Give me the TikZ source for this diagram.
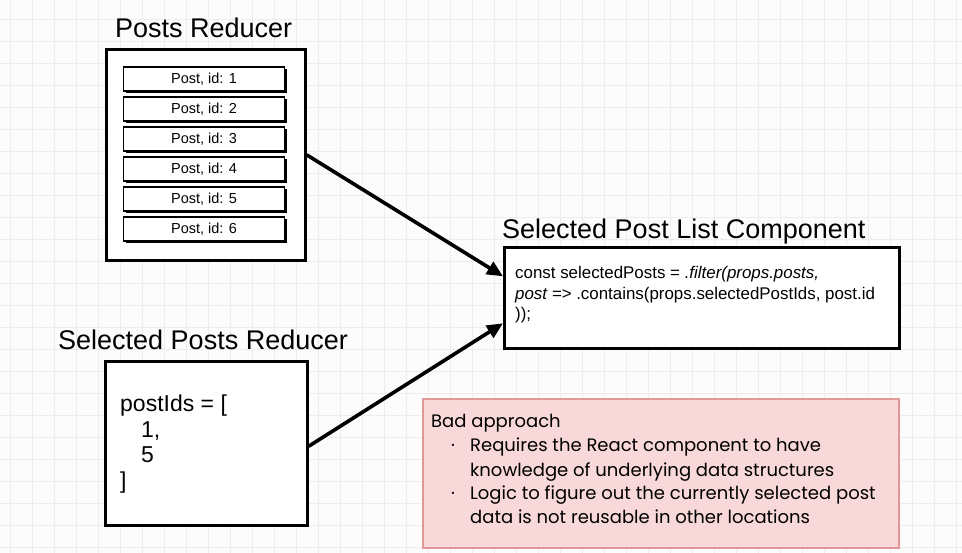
\documentclass[tikz,border=0pt]{standalone}
\usepackage{fontspec}
\setmainfont{Liberation Sans}
\newfontfamily\notefont{Poppins}
\usetikzlibrary{arrows.meta,shadows}
\definecolor{gridline}{RGB}{237,237,237}
\definecolor{paper}{RGB}{252,252,252}
\definecolor{notefill}{RGB}{248,216,216}
\definecolor{noteline}{RGB}{224,152,152}
\begin{document}
\begin{tikzpicture}[x=1pt,y=-1pt,
  title/.style={anchor=base west,inner sep=0,font=\fontsize{27}{30}\selectfont},
  box/.style={draw,line width=2.6pt,fill=white,anchor=north west,inner sep=0},
  postrow/.style={draw,line width=1.3pt,fill=white,minimum width=161,minimum height=24,
    inner sep=0,font=\fontsize{14.5}{16}\selectfont,
    drop shadow={shadow xshift=2pt,shadow yshift=-2pt,opacity=1,fill=black}},
  code/.style={anchor=base west,inner sep=0,font=\fontsize{16.9}{18}\selectfont},
  ids/.style={anchor=base west,inner sep=0,font=\fontsize{23}{25}\selectfont},
  note/.style={anchor=base west,inner sep=0,font=\notefont\fontsize{18}{20}\selectfont},
  arrow/.style={line width=3.6pt,-{Triangle[length=16pt,width=14pt]}}]
\useasboundingbox (0,0) rectangle (962,553);
% paper with grid
\fill[paper] (0,0) rectangle (962,553);
\foreach \gx in {10,32,...,962} \draw[gridline,line width=0.9pt] (\gx,0) -- (\gx,553);
\foreach \gy in {19,41,...,553} \draw[gridline,line width=0.9pt] (0,\gy) -- (962,\gy);

% posts reducer
\node[title] (poststitle) at (115,38) {Posts Reducer};
\node[box,minimum width=199,minimum height=211] (posts) at (105,48) {};
\foreach \i in {1,...,6}
  \node[postrow] (post\i) at (204,{49+30*\i}) {Post, id: \i};

% component
\node[title] (comptitle) at (502,239) {Selected Post List Component};
\node[box,minimum width=395,minimum height=101] (comp) at (503,246) {};
\node[code] (codeA) at (515,279) {const selectedPosts = \textit{.filter(props.posts,}};
\node[code] (codeB) at (515,300) {\textit{post =>} .contains(props.selectedPostIds, post.id};
\node[code] (codeC) at (515,320) {));};

% selected posts reducer
\node[title] (seltitle) at (58,350) {Selected Posts Reducer};
\node[box,minimum width=202,minimum height=164] (sel) at (104,360) {};
\node[ids] (idsA) at (120,412) {postIds = [};
\node[ids] (idsB) at (141,438) {1,};
\node[ids] (idsC) at (141,463) {5};
\node[ids] (idsD) at (120,488) {]};

% note
\node[draw=noteline,fill=notefill,line width=1.8pt,anchor=north west,inner sep=0,
  minimum width=476,minimum height=149] (note) at (422,398) {};
\node[note] (noteA) at (431,428) {Bad approach};
\node[note] (dotA) at (451,452) {·};
\node[note] (noteB) at (470,452) {Requires the React component to have};
\node[note] (noteC) at (470,476) {knowledge of underlying data structures};
\node[note] (dotB) at (451,500) {·};
\node[note] (noteD) at (470,500) {Logic to figure out the currently selected post};
\node[note] (noteE) at (470,523) {data is not reusable in other locations};

\draw[arrow] (posts.east) -- ([yshift=21.5pt]comp.west);
\draw[arrow] ([yshift=-3pt]sel.east) -- ([yshift=-25.5pt]comp.west);
\end{tikzpicture}
\end{document}
